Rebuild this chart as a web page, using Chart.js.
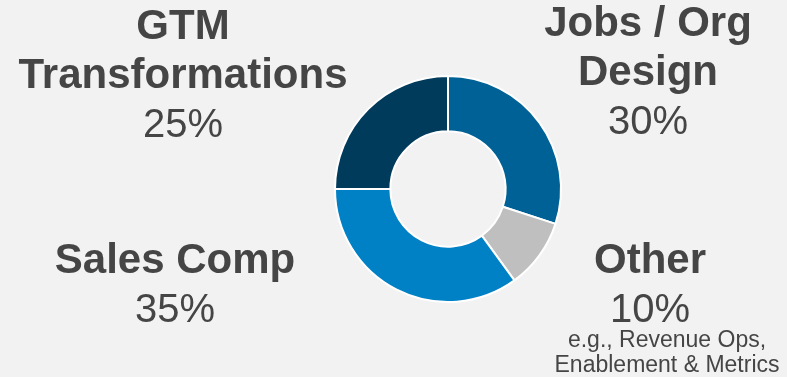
<!DOCTYPE html>
<html>
<head>
<meta charset="utf-8">
<script src="https://cdn.jsdelivr.net/npm/chart.js@4"></script>
<style>
  html, body { margin: 0; padding: 0; background: #f2f2f2; }
  #wrap { position: relative; width: 787px; height: 377px; }
</style>
</head>
<body>
<div id="wrap"><canvas id="donut" width="787" height="377"></canvas></div>
<script>
// data, clockwise from 12 o'clock
var categories = ['Jobs / Org Design', 'Other', 'Sales Comp', 'GTM Transformations'];
var shares = [30, 10, 35, 25];
var colors = ['#006196', '#bfbfbf', '#0081c6', '#003b5c'];
var otherNote = ['e.g., Revenue Ops,', 'Enablement & Metrics'];

// title lines for the big labels
var titleLines = [['Jobs / Org', 'Design'], ['Other'], ['Sales Comp'], ['GTM', 'Transformations']];

// where each label block sits (x center, first baseline)
var labelPos = [
    { x: 648, y: 36 },
    { x: 650, y: 273 },
    { x: 175, y: 273 },
    { x: 183, y: 39 }
];

var labelPlugin = {
    id: 'sliceLabels',
    afterDraw: function (chart) {
        var ctx = chart.ctx;
        ctx.save();
        ctx.fillStyle = '#454545';
        ctx.textAlign = 'center';
        ctx.textBaseline = 'alphabetic';
        for (var i = 0; i < categories.length; i++) {
            var p = labelPos[i];
            var y = p.y;
            ctx.font = 'bold 42px "Liberation Sans", Arial, sans-serif';
            titleLines[i].forEach(function (line) {
                ctx.fillText(line, p.x, y);
                y += 49;
            });
            ctx.font = '40px "Liberation Sans", Arial, sans-serif';
            ctx.fillText(shares[i] + '%', p.x, y);
            if (i === 1) {
                ctx.font = '23px "Liberation Sans", Arial, sans-serif';
                ctx.fillText(otherNote[0], 667, y + 25);
                ctx.fillText(otherNote[1], 667, y + 50);
            }
        }
        ctx.restore();
    }
};

new Chart(document.getElementById('donut'), {
    type: 'doughnut',
    data: {
        labels: categories,
        datasets: [{
            data: shares,
            backgroundColor: colors,
            borderColor: '#ffffff',
            borderWidth: 2
        }]
    },
    options: {
        responsive: false,
        animation: false,
        cutout: '51%',
        layout: {
            padding: { left: 334, right: 225, top: 75, bottom: 74 }
        },
        plugins: {
            legend: { display: false },
            tooltip: { enabled: false }
        }
    },
    plugins: [labelPlugin]
});
</script>
</body>
</html>
